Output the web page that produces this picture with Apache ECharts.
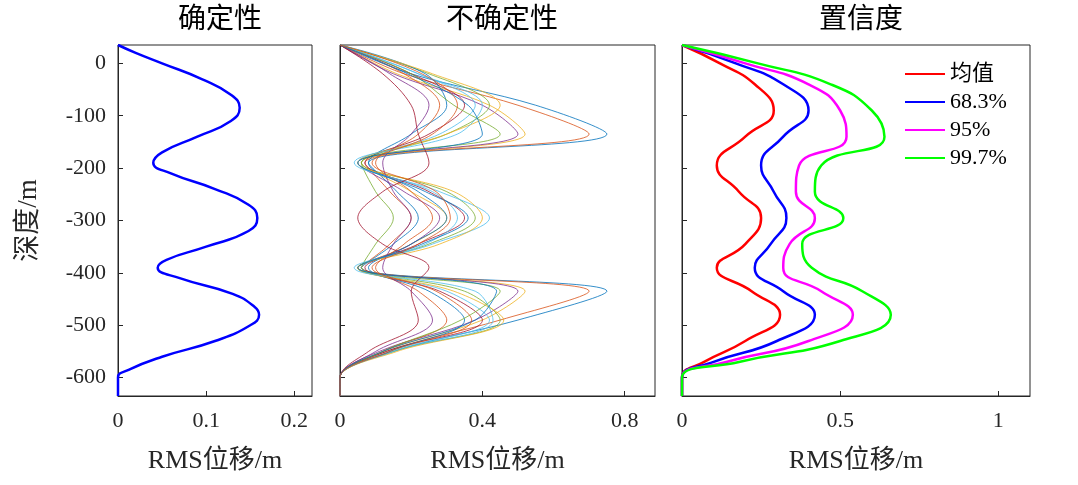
<!DOCTYPE html>
<html>
<head>
<meta charset="UTF-8" />
<script src="https://cdn.jsdelivr.net/npm/echarts@6/dist/echarts.min.js"></script>
<style>html,body{margin:0;background:#fff}#c{width:1078px;height:485px}</style>
</head>
<body>
<div id="c"></div>
<script>
// 确定性 panel: depth / RMS pairs
var detDepth = [35, 20, 0, -30, -60, -85, -110, -140, -170, -190, -210, -240, -270, -295, -320, -350, -375, -390, -410, -440, -465, -480, -500, -530, -560, -585, -600, -635];
var detVal   = [0, 0.02, 0.05, 0.095, 0.128, 0.138, 0.128, 0.09, 0.05, 0.04, 0.06, 0.11, 0.148, 0.158, 0.148, 0.1, 0.055, 0.045, 0.07, 0.13, 0.155, 0.16, 0.15, 0.11, 0.05, 0.012, 0, 0];

// 不确定性 panel: samples at common depths
var sampleDepth = [35, -20, -80, -135, -190, -245, -295, -345, -390, -435, -490, -550, -600, -635];
var samples = [
  [0, 0.2, 0.55, 0.75, 0.08, 0.16, 0.22, 0.15, 0.06, 0.75, 0.5, 0.15, 0, 0],
  [0, 0.18, 0.5, 0.70, 0.07, 0.14, 0.2, 0.14, 0.06, 0.70, 0.45, 0.13, 0, 0],
  [0, 0.16, 0.42, 0.52, 0.06, 0.2, 0.3, 0.2, 0.05, 0.52, 0.4, 0.12, 0, 0],
  [0, 0.15, 0.4, 0.5, 0.05, 0.18, 0.28, 0.2, 0.05, 0.5, 0.38, 0.11, 0, 0],
  [0, 0.25, 0.42, 0.3, 0.06, 0.3, 0.38, 0.25, 0.05, 0.35, 0.45, 0.15, 0, 0],
  [0, 0.22, 0.38, 0.28, 0.05, 0.28, 0.42, 0.26, 0.06, 0.3, 0.42, 0.14, 0, 0],
  [0, 0.2, 0.35, 0.25, 0.07, 0.25, 0.35, 0.22, 0.07, 0.28, 0.4, 0.13, 0, 0],
  [0, 0.24, 0.3, 0.2, 0.08, 0.22, 0.3, 0.2, 0.08, 0.25, 0.35, 0.14, 0, 0],
  [0, 0.18, 0.28, 0.22, 0.1, 0.2, 0.26, 0.18, 0.1, 0.22, 0.3, 0.12, 0, 0],
  [0, 0.26, 0.45, 0.3, 0.05, 0.32, 0.4, 0.28, 0.05, 0.32, 0.46, 0.16, 0, 0],
  [0, 0.14, 0.25, 0.2, 0.12, 0.15, 0.2, 0.15, 0.12, 0.2, 0.26, 0.1, 0, 0],
  [0, 0.2, 0.32, 0.45, 0.06, 0.1, 0.15, 0.1, 0.06, 0.45, 0.34, 0.12, 0, 0],
  [0, 0.22, 0.4, 0.33, 0.04, 0.26, 0.33, 0.24, 0.04, 0.38, 0.43, 0.15, 0, 0],
  [0, 0.12, 0.2, 0.22, 0.25, 0.12, 0.05, 0.12, 0.25, 0.2, 0.22, 0.08, 0, 0],
  [0, 0.19, 0.36, 0.4, 0.05, 0.24, 0.36, 0.23, 0.05, 0.44, 0.38, 0.12, 0, 0],
  [0, 0.23, 0.33, 0.26, 0.09, 0.27, 0.31, 0.22, 0.09, 0.27, 0.37, 0.14, 0, 0]
];
var sampleColors = ['#0072BD', '#D95319', '#EDB120', '#7E2F8E', '#77AC30', '#4DBEEE', '#A2142F'];

// 置信度 panel
var confDepth = [35, 0, -40, -90, -140, -195, -245, -295, -345, -390, -435, -480, -530, -570, -600, -635];
var confNames = ['均值', '68.3%', '95%', '99.7%'];
var confColors = ['#ff0000', '#0000ff', '#ff00ff', '#00ff00'];
var confVals = [
  [0, 0.12, 0.23, 0.29, 0.2, 0.11, 0.18, 0.25, 0.2, 0.11, 0.22, 0.31, 0.2, 0.07, 0, 0],
  [0, 0.17, 0.32, 0.40, 0.32, 0.25, 0.29, 0.33, 0.28, 0.23, 0.32, 0.42, 0.3, 0.1, 0, 0],
  [0, 0.2, 0.4, 0.5, 0.52, 0.37, 0.36, 0.42, 0.34, 0.32, 0.44, 0.54, 0.4, 0.14, 0, 0],
  [0, 0.24, 0.47, 0.6, 0.64, 0.44, 0.42, 0.51, 0.38, 0.41, 0.57, 0.66, 0.5, 0.18, 0, 0]
];

var yTicks = [0, -100, -200, -300, -400, -500, -600];
var serif = '"Liberation Serif", "Noto Sans CJK SC", serif';

function pairs(xs, ys) {
  return xs.map(function (x, i) { return [x, ys[i]]; });
}

var grids = [
  { left: 118, top: 45, width: 194, height: 351 },
  { left: 340, top: 45, width: 315, height: 351 },
  { left: 682, top: 45, width: 348, height: 351 }
];
grids.forEach(function (g) { g.show = true; g.borderColor = '#262626'; g.borderWidth = 1; g.backgroundColor = '#fff'; });

var xCfg = [
  { max: 0.22, ticks: [0, 0.1, 0.2] },
  { max: 0.885, ticks: [0, 0.4, 0.8] },
  { max: 1.1, ticks: [0, 0.5, 1] }
];

var xAxes = xCfg.map(function (c, i) {
  return {
    type: 'value', gridIndex: i, min: 0, max: c.max,
    name: 'RMS位移/m', nameLocation: 'middle', nameGap: 52,
    nameTextStyle: { fontFamily: serif, fontSize: 26, color: '#262626' },
    axisLine: { onZero: false, lineStyle: { color: '#262626' } },
    splitLine: { show: false },
    axisTick: { inside: true, length: 5, customValues: c.ticks, lineStyle: { color: '#262626' } },
    axisLabel: { customValues: c.ticks, fontFamily: serif, fontSize: 22, color: '#262626', margin: 14 }
  };
});

var yAxes = [0, 1, 2].map(function (i) {
  return {
    type: 'value', gridIndex: i, min: -635, max: 35,
    name: i === 0 ? '深度/m' : '', nameLocation: 'middle', nameGap: 76,
    nameTextStyle: { fontFamily: serif, fontSize: 27, color: '#262626' },
    axisLine: { onZero: false, lineStyle: { color: '#262626' } },
    splitLine: { show: false },
    axisTick: { inside: true, length: 5, customValues: yTicks, lineStyle: { color: '#262626' } },
    axisLabel: { show: i === 0, customValues: yTicks, fontFamily: serif, fontSize: 22, color: '#262626', margin: 12 }
  };
});

var series = [];
series.push({
  type: 'line', xAxisIndex: 0, yAxisIndex: 0, smooth: true, symbol: 'none',
  lineStyle: { color: '#0000ff', width: 2.5 }, data: pairs(detVal, detDepth)
});
samples.forEach(function (s, k) {
  series.push({
    type: 'line', xAxisIndex: 1, yAxisIndex: 1, smooth: 0.35, symbol: 'none',
    lineStyle: { color: sampleColors[k % sampleColors.length], width: 0.8 }, data: pairs(s, sampleDepth)
  });
});
confVals.forEach(function (s, k) {
  series.push({
    name: confNames[k], type: 'line', xAxisIndex: 2, yAxisIndex: 2, smooth: true, symbol: 'none',
    itemStyle: { color: confColors[k] },
    lineStyle: { color: confColors[k], width: 2.5 }, data: pairs(s, confDepth)
  });
});

var chart = echarts.init(document.getElementById('c'));
chart.setOption({
  animation: false,
  title: [
    { text: '确定性', left: 215, top: 2, textAlign: 'center' },
    { text: '不确定性', left: 497, top: 2, textAlign: 'center' },
    { text: '置信度', left: 856, top: 2, textAlign: 'center' }
  ].map(function (t) { t.textStyle = { fontFamily: serif, fontSize: 28, fontWeight: 'normal', color: '#000' }; return t; }),
  legend: {
    data: confNames, orient: 'vertical', left: 900, top: 58, itemGap: 6,
    itemWidth: 40, itemHeight: 12, icon: 'path://M0,4H40V6H0Z',
    textStyle: { fontFamily: serif, fontSize: 22, color: '#000' }
  },
  grid: grids,
  xAxis: xAxes,
  yAxis: yAxes,
  series: series
});
</script>
</body>
</html>
